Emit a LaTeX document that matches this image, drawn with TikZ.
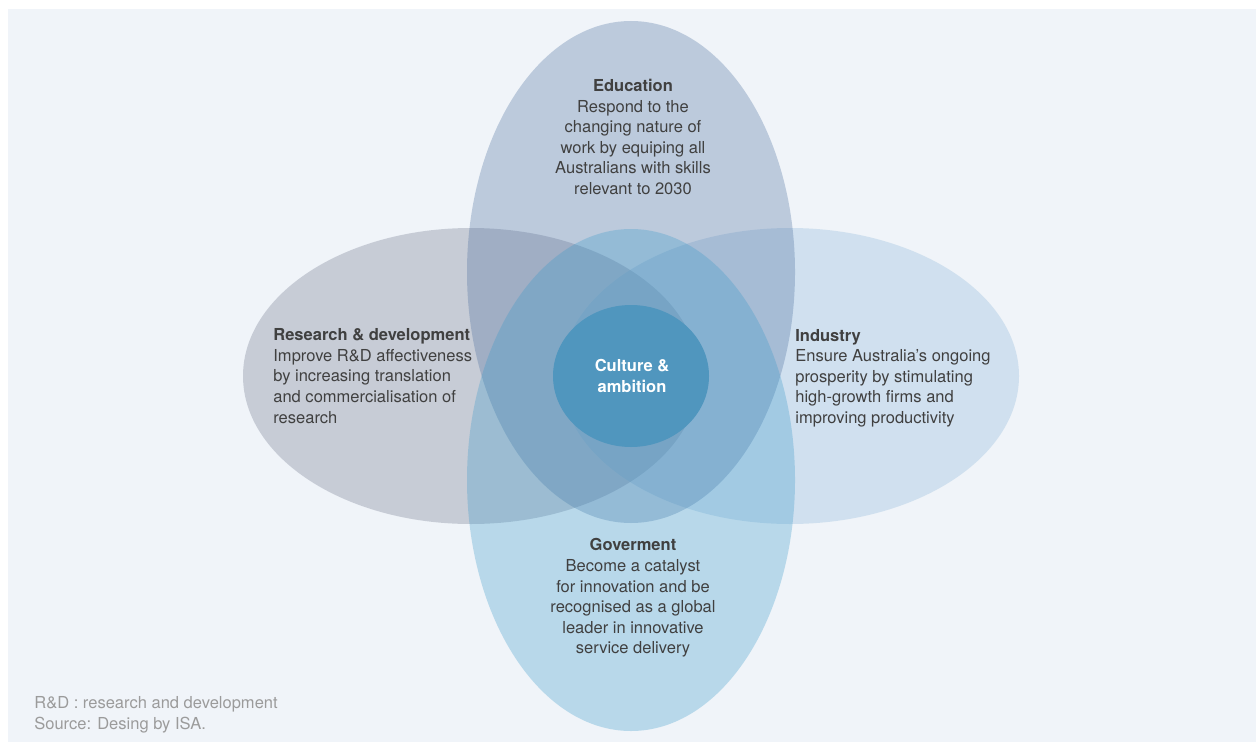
\documentclass[tikz,border=0pt]{standalone}
\usepackage{fontspec}
\setmainfont{TeX Gyre Heros}
\usetikzlibrary{positioning}

\definecolor{panel}{RGB}{240,244,249}
\definecolor{educol}{RGB}{70,107,156}
\definecolor{rdcol}{RGB}{107,114,136}
\definecolor{indcol}{RGB}{137,181,216}
\definecolor{govcol}{RGB}{57,154,202}
\definecolor{corecol}{RGB}{80,150,190}
\definecolor{txtgrey}{RGB}{64,64,64}
\definecolor{notegrey}{RGB}{155,155,155}

\tikzset{
  bubble/.style={fill opacity=0.3},
  blurb/.style={text=txtgrey, inner sep=0pt, font=\fontsize{9.4}{11.7}\selectfont},
}

\begin{document}
\begin{tikzpicture}[x=0.02cm, y=-0.02cm]
    % Canvas
    \useasboundingbox (0,0) rectangle (1256,743);
    \fill[panel] (8,9) rectangle (1256,742);

    % Four ellipses
    \def\cx{631}
    \def\cy{376}
    \fill[rdcol, bubble]  (\cx-160,\cy) ellipse [x radius=228, y radius=148];
    \fill[indcol, bubble] (\cx+159,\cy) ellipse [x radius=229, y radius=148];
    \fill[educol, bubble] (\cx,\cy-104) ellipse [x radius=164, y radius=251];
    \fill[govcol, bubble] (\cx,\cy+104) ellipse [x radius=164, y radius=251];

    % Core
    \fill[corecol] (\cx,\cy) ellipse [x radius=78, y radius=71];
    \node[blurb, text=white, align=center, font=\fontsize{9.4}{11.7}\selectfont\bfseries]
        (core) at (632,376) {Culture \&\\ambition};

    % Labels
    \node[blurb, align=center] (edu) at (633,137)
        {\textbf{Education}\\Respond to the\\changing nature of\\work by equiping all\\Australians with skills\\relevant to 2030};
    \node[blurb, align=left, anchor=west] (rd) at (273,376)
        {\textbf{Research \& development}\\Improve R\&D affectiveness\\by increasing translation\\and commercialisation of\\research};
    \node[blurb, align=left, anchor=west] (ind) at (795,378)
        {\textbf{Industry}\\Ensure Australia’s ongoing\\prosperity by stimulating\\high-growth firms and\\improving productivity};
    \node[blurb, align=center] (gov) at (633,598)
        {\textbf{Goverment}\\Become a catalyst\\for innovation and be\\recognised as a global\\leader in innovative\\service delivery};

    % Note
    \node[blurb, text=notegrey, align=left, anchor=west] (note) at (34,715)
        {R\&D : research and development\\Source: Desing by ISA.};
\end{tikzpicture}
\end{document}
